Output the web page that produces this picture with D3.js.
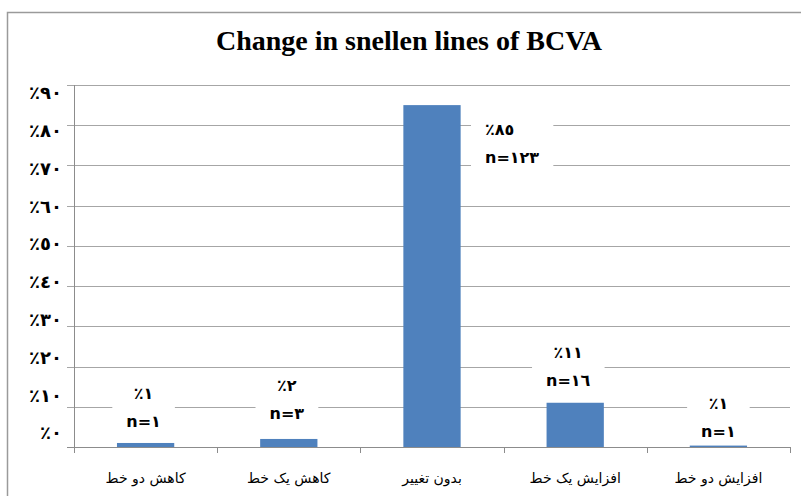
<!DOCTYPE html>
<html>
<head>
<meta charset="utf-8">
<script src="https://cdn.jsdelivr.net/npm/d3@7"></script>
<style>
  body { margin: 0; background: #fff; }
  svg { display: block; }
  .title { font-family: "Times New Roman", "Liberation Serif", "DejaVu Serif", serif; font-weight: bold; font-size: 28px; }
  .tick-label { font-family: "DejaVu Sans", sans-serif; font-weight: bold; font-size: 18px; }
  .cat-label { font-family: "DejaVu Sans", sans-serif; font-size: 14px; }
  .data-label { font-family: "DejaVu Sans", sans-serif; font-weight: bold; font-size: 16px; }
</style>
</head>
<body>
<div id="chart"></div>
<script>
// data
const categories = ['کاهش دو خط', 'کاهش یک خط', 'بدون تغییر', 'افزایش یک خط', 'افزایش دو خط'];
const percents = [1, 2, 85, 11, 1];
const counts = [1, 3, 123, 16, 1];
const yTicks = [0, 10, 20, 30, 40, 50, 60, 70, 80, 90];

// dimensions
const WIDTH = 801;
const HEIGHT = 496;
const MARGIN_LEFT = 74;
const MARGIN_RIGHT = 11;
const MARGIN_TOP = 85;
const MARGIN_BOTTOM = 49;
const BAR_RATIO = 0.4;
const BAR_COLOR = '#4f81bd';
const GRID_COLOR = '#a6a6a6';
const LINE_GAP = 28;

// manual label placement (dx, dy from bar top centre, anchor)
const labelNudge = [
  { dx: -2, dy: -50, anchor: 'middle' },
  { dx: -2, dy: -54, anchor: 'middle' },
  { dx: 53, dy: 24, anchor: 'start' },
  { dx: -7, dy: -50, anchor: 'middle' },
  { dx: 0, dy: -40, anchor: 'middle' },
];

const arabic = d3.formatLocale({
  decimal: '٫', thousands: '٬', grouping: [3], currency: ['', ''],
  numerals: ['٠', '١', '٢', '٣', '٤', '٥', '٦', '٧', '٨', '٩'],
});
const fmt = arabic.format('d');

const $svg = d3.select('#chart').append('svg')
  .attr('width', WIDTH).attr('height', HEIGHT);

// outer frame
$svg.append('rect')
  .attr('x', 7.5).attr('y', 12.5)
  .attr('width', WIDTH + 20).attr('height', HEIGHT + 20)
  .attr('fill', 'none').attr('stroke', '#9a9a9a').attr('stroke-width', 1.5);

// title
$svg.append('text')
  .attr('class', 'title')
  .attr('x', 409).attr('y', 50)
  .attr('text-anchor', 'middle')
  .text('Change in snellen lines of BCVA');

const width = WIDTH - MARGIN_LEFT - MARGIN_RIGHT;
const height = HEIGHT - MARGIN_TOP - MARGIN_BOTTOM;

const scaleX = d3.scaleBand().domain(categories).range([0, width]).padding(0);
const scaleY = d3.scaleLinear().domain([0, 90]).range([height, 0]);
// tick labels in the source drift from their gridlines
const scaleLabel = d3.scaleLinear().domain([0, 90]).range([height - 14, 8]);

const $vis = $svg.append('g').attr('transform', `translate(${MARGIN_LEFT}, ${MARGIN_TOP})`);

// gridlines
$vis.append('g').selectAll('line')
  .data(yTicks.filter(d => d > 0))
  .join('line')
  .attr('x1', -7).attr('x2', width)
  .attr('y1', d => Math.round(scaleY(d)) + 0.5)
  .attr('y2', d => Math.round(scaleY(d)) + 0.5)
  .attr('stroke', GRID_COLOR);

// y axis line
$vis.append('line')
  .attr('x1', 0.5).attr('x2', 0.5)
  .attr('y1', 0).attr('y2', height)
  .attr('stroke', '#8c8c8c');

// y tick labels
$vis.append('g').selectAll('text')
  .data(yTicks)
  .join('text')
  .attr('class', 'tick-label')
  .attr('x', -12)
  .attr('y', d => scaleLabel(d))
  .attr('dy', '0.35em')
  .attr('text-anchor', 'end')
  .attr('direction', 'ltr')
  .style('unicode-bidi', 'bidi-override')
  .text(d => '٪' + fmt(d));

// bars
const barW = scaleX.bandwidth() * BAR_RATIO;
$vis.append('g').selectAll('rect')
  .data(percents)
  .join('rect')
  .attr('x', (d, i) => scaleX(categories[i]) + (scaleX.bandwidth() - barW) / 2)
  .attr('y', d => scaleY(d))
  .attr('width', barW)
  .attr('height', d => height - scaleY(d))
  .attr('fill', BAR_COLOR);

// x axis
const xAxis = d3.axisBottom(scaleX).tickSize(0).tickFormat(d => d);
const $xAxis = $vis.append('g')
  .attr('transform', `translate(0, ${height})`)
  .call(xAxis);
$xAxis.select('.domain').attr('stroke', '#8c8c8c').attr('d', `M-7,0.5H${width}`);
$xAxis.selectAll('text')
  .attr('class', 'cat-label')
  .attr('y', 26)
  .attr('fill', '#000')
  .attr('direction', 'rtl');
$xAxis.append('g').selectAll('line')
  .data(d3.range(categories.length + 1))
  .join('line')
  .attr('x1', i => Math.round(i * scaleX.step()) + 0.5)
  .attr('x2', i => Math.round(i * scaleX.step()) + 0.5)
  .attr('y1', 0).attr('y2', 6)
  .attr('stroke', '#8c8c8c');

// data labels
const $labels = $vis.append('g').selectAll('g')
  .data(percents)
  .join('g')
  .attr('transform', (d, i) => {
    const cx = scaleX(categories[i]) + scaleX.bandwidth() / 2 + labelNudge[i].dx;
    return `translate(${cx}, ${scaleY(d) + labelNudge[i].dy})`;
  });

const $bg = $labels.append('rect').attr('fill', '#fff');

$labels.append('text')
  .attr('class', 'data-label')
  .attr('text-anchor', (d, i) => labelNudge[i].anchor)
  .attr('direction', 'ltr')
  .style('unicode-bidi', 'bidi-override')
  .attr('dy', '0.35em')
  .text(d => '٪' + fmt(d));

$labels.append('text')
  .attr('class', 'data-label')
  .attr('text-anchor', (d, i) => labelNudge[i].anchor)
  .attr('direction', 'ltr')
  .style('unicode-bidi', 'bidi-override')
  .attr('y', LINE_GAP)
  .attr('dy', '0.35em')
  .text((d, i) => 'n=' + fmt(counts[i]));

$bg.each(function () {
  const box = this.parentNode.getBBox();
  d3.select(this)
    .attr('x', box.x - 14)
    .attr('y', box.y - 5)
    .attr('width', box.width + 28)
    .attr('height', box.height + 10);
});
</script>
</body>
</html>
